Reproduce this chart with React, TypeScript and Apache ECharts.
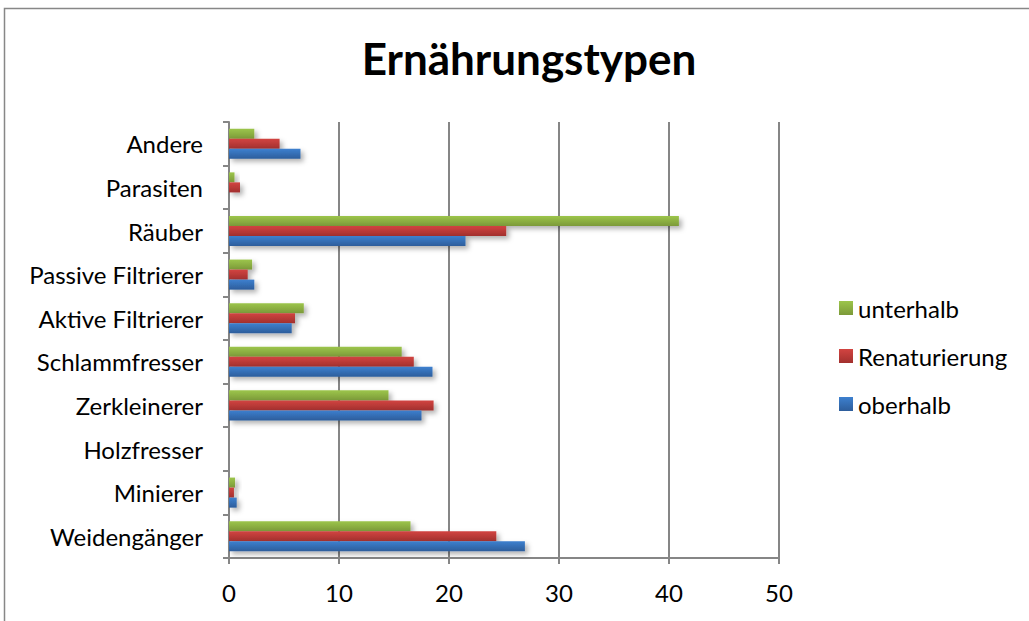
import React, { useEffect, useRef } from "react";
import * as echarts from "echarts";

const title = "Ernährungstypen";
const categories = [
  "Weidengänger",
  "Minierer",
  "Holzfresser",
  "Zerkleinerer",
  "Schlammfresser",
  "Aktive Filtrierer",
  "Passive Filtrierer",
  "Räuber",
  "Parasiten",
  "Andere",
];
const oberhalb = [26.9, 0.7, 0, 17.5, 18.5, 5.7, 2.3, 21.5, 0, 6.5];
const renaturierung = [24.3, 0.45, 0, 18.6, 16.8, 6.0, 1.7, 25.2, 1.0, 4.6];
const unterhalb = [16.5, 0.55, 0, 14.5, 15.7, 6.8, 2.1, 40.9, 0.5, 2.3];
const legendOrder = ["unterhalb", "Renaturierung", "oberhalb"];

const FONT = "Lato, 'Open Sans', sans-serif";

function grad(top: string, bottom: string) {
  return new echarts.graphic.LinearGradient(0, 0, 0, 1, [
    { offset: 0, color: top },
    { offset: 1, color: bottom },
  ]);
}

export default function App() {
  const ref = useRef<HTMLDivElement>(null);
  useEffect(() => {
    if (!ref.current) return;
    const chart = echarts.init(ref.current, undefined, { renderer: "svg" });
    const shadow = {
      shadowColor: "rgba(0,0,0,0.3)",
      shadowBlur: 5,
      shadowOffsetX: 3,
      shadowOffsetY: 3,
    };
    const mk = (name: string, data: number[], top: string, bottom: string) => ({
      name,
      type: "bar",
      data,
      barGap: "0%",
      barCategoryGap: "31%",
      itemStyle: { color: grad(top, bottom), ...shadow },
    });
    chart.setOption({
      animation: false,
      backgroundColor: "#ffffff",
      title: {
        text: title,
        left: 524,
        textAlign: "center",
        top: 31,
        textStyle: { fontFamily: FONT, fontSize: 44, fontWeight: "bold", color: "#000" },
      },
      graphic: [
        {
          type: "rect",
          shape: { x: 4.5, y: 8.5, width: 1100, height: 700 },
          style: { fill: "none", stroke: "#878787", lineWidth: 1.5 },
          silent: true,
        },
      ],
      legend: {
        data: legendOrder,
        orient: "vertical",
        left: 834,
        top: 291,
        icon: "rect",
        itemWidth: 14,
        itemHeight: 14,
        itemGap: 24,
        textStyle: { fontFamily: FONT, fontSize: 24, color: "#000", lineHeight: 24 },
      },
      grid: { left: 229, right: 250, top: 122, bottom: 63, containLabel: false },
      xAxis: {
        type: "value",
        min: 0,
        max: 50,
        interval: 10,
        axisLine: { show: true, lineStyle: { color: "#868686", width: 2 } },
        axisTick: { show: true, length: 6, lineStyle: { color: "#868686", width: 2 } },
        splitLine: { show: true, lineStyle: { color: "#868686", width: 2 } },
        axisLabel: { fontFamily: FONT, fontSize: 24, color: "#000", margin: 22 },
      },
      yAxis: {
        type: "category",
        data: categories,
        axisLine: { show: true, lineStyle: { color: "#868686", width: 2 } },
        axisTick: { show: true, length: 6, lineStyle: { color: "#868686", width: 2 } },
        axisLabel: { fontFamily: FONT, fontSize: 24, color: "#000", margin: 26 },
      },
      series: [
        mk("unterhalb", unterhalb, "#9cc54b", "#7c9a39"),
        mk("Renaturierung", renaturierung, "#d24441", "#a2302e"),
        mk("oberhalb", oberhalb, "#3d80cf", "#2d5d9b"),
      ],
    });
    return () => chart.dispose();
  }, []);
  return (
    <div
      ref={ref}
      style={{ position: "fixed", left: 0, top: 0, width: 1029, height: 621 }}
    />
  );
}
